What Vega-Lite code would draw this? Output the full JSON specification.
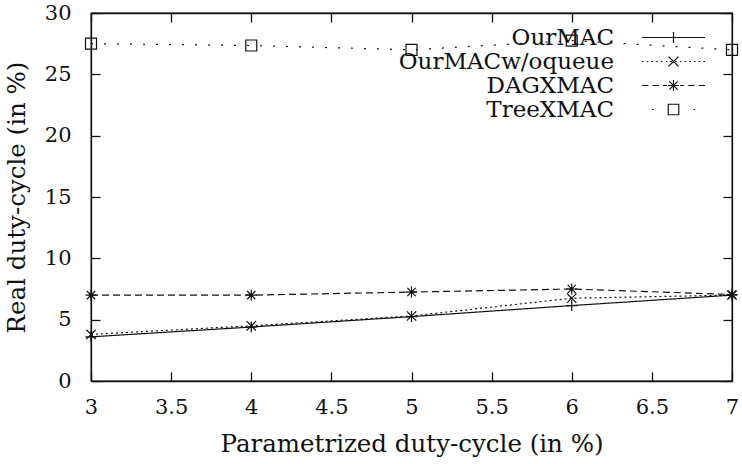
{
  "$schema": "https://vega.github.io/schema/vega-lite/v6.json",
  "width": 641,
  "height": 368,
  "autosize": {"type": "none"},
  "padding": {"left": 91, "top": 13, "right": 10, "bottom": 83},
  "background": "white",
  "config": {
    "view": {"stroke": "#111", "strokeWidth": 1.3},
    "font": "DejaVu Serif",
    "axis": {
      "grid": false,
      "domainColor": "#111",
      "domainWidth": 1.3,
      "tickColor": "#111",
      "tickWidth": 1.3,
      "tickSize": -9,
      "labelFont": "DejaVu Serif",
      "labelFontSize": 21,
      "labelColor": "#111",
      "labelFlush": false,
      "labelOverlap": false,
      "titleFont": "DejaVu Serif",
      "titleFontSize": 24.5,
      "titleFontWeight": "normal",
      "titleColor": "#111"
    }
  },
  "data": {
    "values": [
      {"series": "OurMAC", "param": 3, "real": 3.6},
      {"series": "OurMAC", "param": 4, "real": 4.4},
      {"series": "OurMAC", "param": 5, "real": 5.25},
      {"series": "OurMAC", "param": 6, "real": 6.15},
      {"series": "OurMAC", "param": 7, "real": 7.0},
      {"series": "OurMACw/oqueue", "param": 3, "real": 3.8},
      {"series": "OurMACw/oqueue", "param": 4, "real": 4.5},
      {"series": "OurMACw/oqueue", "param": 5, "real": 5.3},
      {"series": "OurMACw/oqueue", "param": 6, "real": 6.75},
      {"series": "OurMACw/oqueue", "param": 7, "real": 7.0},
      {"series": "DAGXMAC", "param": 3, "real": 7.0},
      {"series": "DAGXMAC", "param": 4, "real": 7.0},
      {"series": "DAGXMAC", "param": 5, "real": 7.25},
      {"series": "DAGXMAC", "param": 6, "real": 7.5},
      {"series": "DAGXMAC", "param": 7, "real": 7.05},
      {"series": "TreeXMAC", "param": 3, "real": 27.5},
      {"series": "TreeXMAC", "param": 4, "real": 27.35},
      {"series": "TreeXMAC", "param": 5, "real": 27.0},
      {"series": "TreeXMAC", "param": 6, "real": 27.75},
      {"series": "TreeXMAC", "param": 7, "real": 27.0}
    ]
  },
  "layer": [
    {
      "mark": {"type": "line", "color": "#111", "strokeWidth": 1.2},
      "encoding": {
        "x": {
          "field": "param", "type": "quantitative",
          "scale": {"domain": [3, 7]},
          "axis": {
            "orient": "bottom",
            "values": [3, 3.5, 4, 4.5, 5, 5.5, 6, 6.5, 7],
            "format": "~g",
            "labelPadding": 24,
            "title": "Parametrized duty-cycle (in %)",
            "titlePadding": 15
          }
        },
        "y": {
          "field": "real", "type": "quantitative",
          "scale": {"domain": [0, 30]},
          "axis": {
            "orient": "left",
            "values": [0, 5, 10, 15, 20, 25, 30],
            "format": "~g",
            "labelPadding": 29,
            "title": "Real duty-cycle (in %)",
            "titlePadding": 15
          }
        },
        "strokeDash": {
          "field": "series", "type": "nominal",
          "scale": {
            "domain": ["OurMAC", "OurMACw/oqueue", "DAGXMAC", "TreeXMAC"],
            "range": [[1, 0], [2, 3], [7, 4], [2, 11]]
          },
          "legend": null
        }
      }
    },
    {
      "mark": {"type": "point", "filled": false, "stroke": "#111", "strokeWidth": 1.2, "size": 121, "opacity": 1},
      "encoding": {
        "x": {"field": "param", "type": "quantitative", "axis": null},
        "y": {"field": "real", "type": "quantitative", "axis": null},
        "shape": {
          "field": "series", "type": "nominal",
          "scale": {
            "domain": ["OurMAC", "OurMACw/oqueue", "DAGXMAC", "TreeXMAC"],
            "range": [
              "M-1,0L1,0M0,-1L0,1",
              "M-0.85,-0.85L0.85,0.85M-0.85,0.85L0.85,-0.85",
              "M-1,0L1,0M0,-1L0,1M-0.75,-0.75L0.75,0.75M-0.75,0.75L0.75,-0.75",
              "M-1,-1L1,-1L1,1L-1,1Z"
            ]
          },
          "legend": null
        }
      }
    },
    {
      "transform": [{"filter": "false"}],
      "mark": {"type": "point", "filled": false, "stroke": "#111", "strokeWidth": 1.2, "size": 441, "opacity": 1},
      "encoding": {
        "x": {
          "field": "param", "type": "quantitative",
          "axis": {"orient": "top", "values": [3, 3.5, 4, 4.5, 5, 5.5, 6, 6.5, 7], "labels": false, "title": null}
        },
        "y": {
          "field": "real", "type": "quantitative",
          "axis": {"orient": "right", "values": [0, 5, 10, 15, 20, 25, 30], "labels": false, "title": null}
        },
        "shape": {
          "field": "series", "type": "nominal",
          "scale": {
            "domain": ["OurMAC", "OurMACw/oqueue", "DAGXMAC", "TreeXMAC"],
            "range": [
              "M-3,0L3,0M0,-0.52L0,0.52",
              "M-3,0h0.15M-2.55,0h0.15M-2.1,0h0.15M-1.65,0h0.15M-1.2,0h0.15M-0.75,0h0.15M-0.3,0h0.15M0.15,0h0.15M0.6,0h0.15M1.05,0h0.15M1.5,0h0.15M1.95,0h0.15M2.4,0h0.15M2.85,0h0.15M-0.47,-0.47L0.47,0.47M-0.47,0.47L0.47,-0.47",
              "M-3,0L-2.4,0M-2,0L-1.4,0M-1,0L-0.6,0M0.6,0L1,0M1.4,0L2,0M2.4,0L3,0M-0.52,0L0.52,0M0,-0.52L0,0.52M-0.4,-0.4L0.4,0.4M-0.4,0.4L0.4,-0.4",
              "M-2.05,0L-1.9,0M1.9,0L2.05,0M-0.5,-0.5L0.5,-0.5L0.5,0.5L-0.5,0.5Z"
            ]
          },
          "legend": {
            "title": null,
            "orient": "none",
            "legendX": 571,
            "legendY": 13,
            "padding": 0,
            "symbolSize": 441,
            "symbolStrokeWidth": 1.2,
            "symbolStrokeColor": "#111",
            "symbolFillColor": "transparent",
            "symbolOpacity": 1,
            "labelAlign": "right",
            "labelBaseline": "middle",
            "labelOffset": -71,
            "labelFont": "DejaVu Serif",
            "labelFontSize": 23,
            "labelColor": "#111",
            "labelLimit": 400,
            "rowPadding": -10
          }
        }
      }
    }
  ],
  "resolve": {
    "scale": {"shape": "independent"},
    "axis": {"x": "independent", "y": "independent"}
  }
}
